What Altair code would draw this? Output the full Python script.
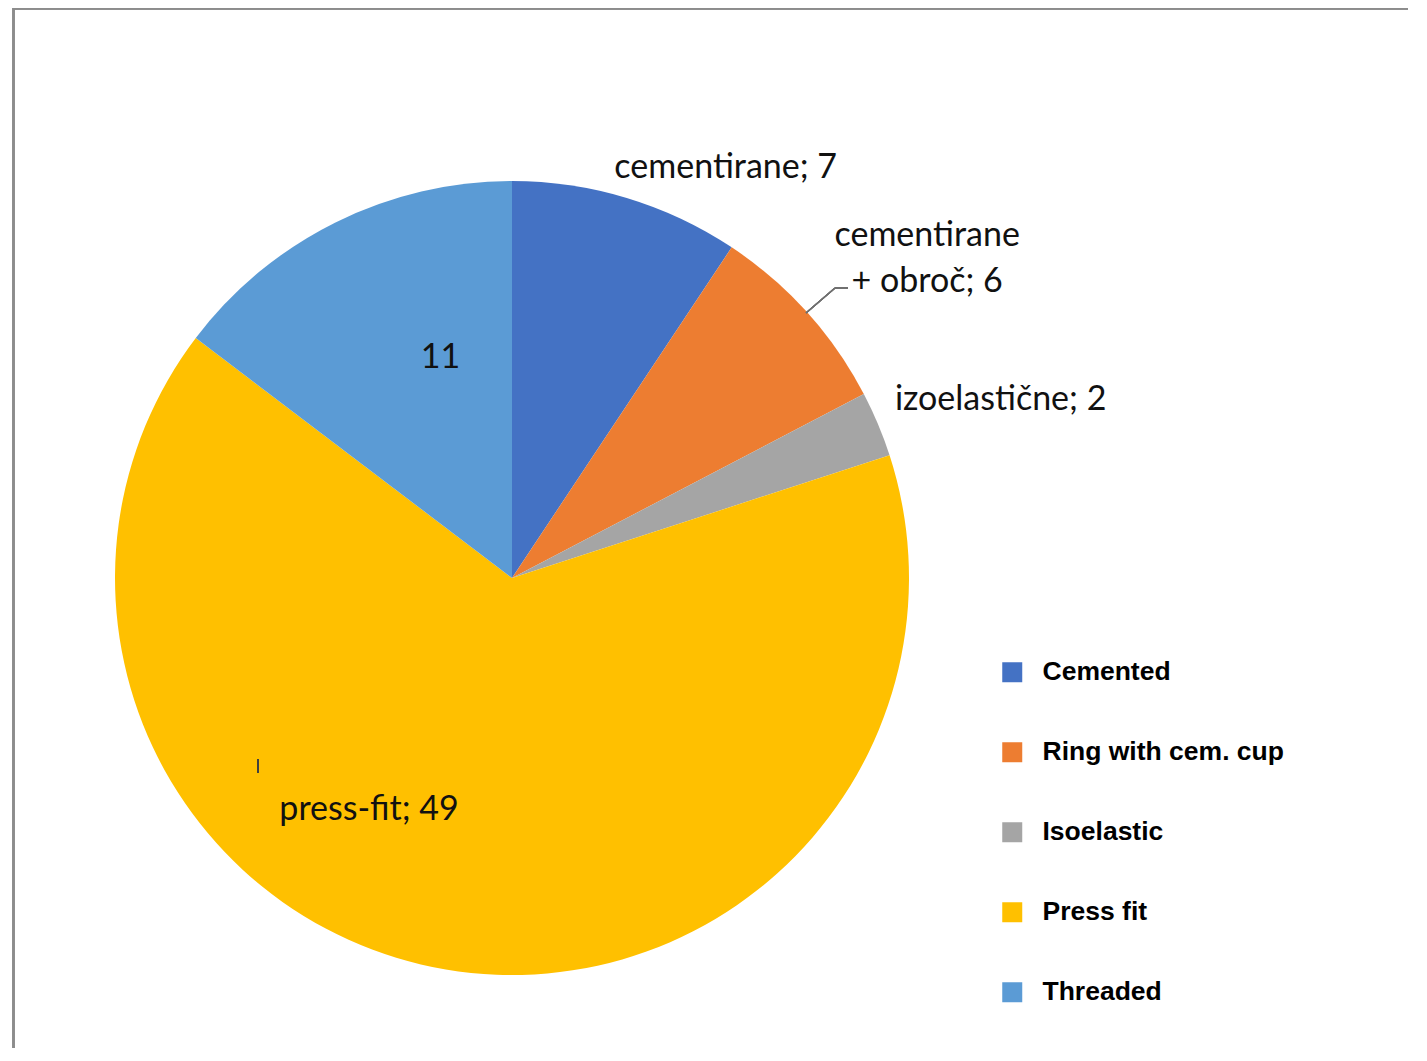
import altair as alt
import pandas as pd

# ---- data ----
categories = ["Cemented", "Ring with cem. cup", "Isoelastic", "Press fit", "Threaded"]
values = [7, 6, 2, 49, 11]
slice_labels = ["cementirane; 7", "cementirane\n+ obroč; 6", "izoelastične; 2", "press-fit; 49", "11"]

# ---- styling / layout ----
colors = ["#4472C4", "#ED7D31", "#A5A5A5", "#FFC000", "#5B9BD5"]
label_shift = [2.2, 0.47, 0.52, 4.66, 1.79]   # nudge of label along the circle (data units)
label_radius = [465, 540, 521, 270, 234]        # px from centre
W, H = 1400, 1040
CX, CY, R = 504, 570, 397

df = pd.DataFrame({"category": categories, "value": values, "label": slice_labels})
df["idx"] = range(len(df))
cum = df["value"].cumsum()
df["label_theta"] = cum - df["value"] / 2 + pd.Series(label_shift)
df["label_r"] = label_radius

color_scale = alt.Scale(domain=categories, range=colors)

pie = alt.Chart(df).mark_arc(outerRadius=R).encode(
    theta=alt.Theta("value:Q", stack=True),
    order=alt.Order("idx:Q", sort="ascending"),
    color=alt.Color(
        "category:N",
        scale=color_scale,
        sort=categories,
        legend=alt.Legend(
            title=None,
            orient="none",
            legendX=991,
            legendY=651,
            symbolType="square",
            symbolSize=400,
            symbolStrokeWidth=0,
            labelFont="Liberation Sans",
            labelFontWeight="bold",
            labelFontSize=26.5,
            labelColor="#000000",
            labelOffset=17,
            labelLimit=400,
            rowPadding=53,
            padding=0,
        ),
    ),
    x=alt.value(CX),
    y=alt.value(CY),
)

labels = alt.Chart(df).mark_text(
    font="Lato", fontSize=34, color="#111111", align="center", baseline="middle",
    lineBreak="\n", lineHeight=46, dy=3,
).encode(
    theta=alt.Theta("label_theta:Q", stack=None),
    radius=alt.Radius("label_r:Q", scale=None),
    text="label:N",
    x=alt.value(CX),
    y=alt.value(CY),
)

leader1 = alt.Chart(df).mark_rule(color="#707070", strokeWidth=1.2).encode(
    x=alt.value(798), y=alt.value(305), x2=alt.value(827), y2=alt.value(280)
)
leader2 = alt.Chart(df).mark_rule(color="#707070", strokeWidth=1.2).encode(
    x=alt.value(827), y=alt.value(280), x2=alt.value(840), y2=alt.value(280)
)
tick = alt.Chart(df).mark_rule(color="#404040", strokeWidth=1.2).encode(
    x=alt.value(250), y=alt.value(751), x2=alt.value(250), y2=alt.value(765)
)
border_top = alt.Chart(df).mark_rule(color="#8c8c8c", strokeWidth=2).encode(
    x=alt.value(5), x2=alt.value(W), y=alt.value(0.5), y2=alt.value(0.5)
)
border_left = alt.Chart(df).mark_rule(color="#8c8c8c", strokeWidth=2).encode(
    x=alt.value(5.5), x2=alt.value(5.5), y=alt.value(0), y2=alt.value(H)
)

chart = alt.layer(pie, labels, leader1, leader2, tick, border_top, border_left).properties(
    width=W, height=H, autosize=alt.AutoSizeParams(type="none"), padding=0
).configure_view(stroke=None)

chart.save("out.html", embed_options={"renderer": "svg", "actions": False})
